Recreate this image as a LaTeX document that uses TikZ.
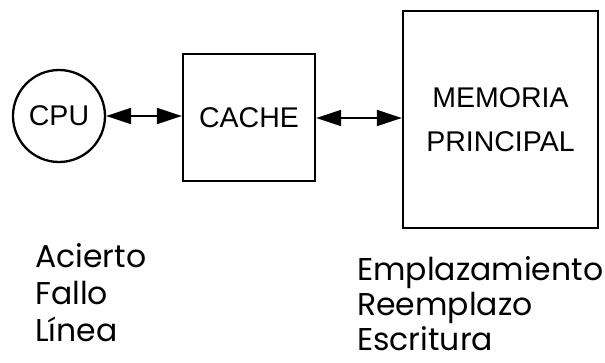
\documentclass[tikz,border=0pt]{standalone}
\usepackage{fontspec}
\setmainfont{Liberation Sans}
\newfontfamily\geofont{Poppins}
\usetikzlibrary{arrows.meta}
\begin{document}
\begin{tikzpicture}[x=1pt,y=-1pt,
  unit/.style={draw,line width=2.3pt,inner sep=0pt,font=\fontsize{28.5}{32}\selectfont},
  arr/.style={line width=1.6pt,{Triangle[length=25pt,width=16pt]}-{Triangle[length=25pt,width=16pt]}},
  term/.style={anchor=base west,inner sep=0pt,font=\geofont\fontsize{31.5}{36}\selectfont}]
\useasboundingbox (0,0) rectangle (605,362);
\node[unit,circle,minimum size=92pt] (cpu) at (59,116) {CPU};
\node[unit,rectangle,minimum width=132pt,minimum height=127pt] (cache) at (249,117.5) {CACHE};
\node[unit,rectangle,minimum width=195pt,minimum height=217pt,align=center] (mem) at (500.5,119.5) {MEMORIA\\[12pt]PRINCIPAL};
\draw[arr] (cpu.east) -- (cpu.east -| cache.west);
\draw[arr] (cache.east |- 0,118) coordinate (c1) -- (c1 -| mem.west);
\node[term] (t1) at (35,267) {Acierto};
\node[term] (t2) at (35,304) {Fallo};
\node[term] (t3) at (35,341) {Línea};
\node[term] (t4) at (357,280) {Emplazamiento};
\node[term] (t5) at (357,315) {Reemplazo};
\node[term] (t6) at (357,350) {Escritura};
\end{tikzpicture}
\end{document}
